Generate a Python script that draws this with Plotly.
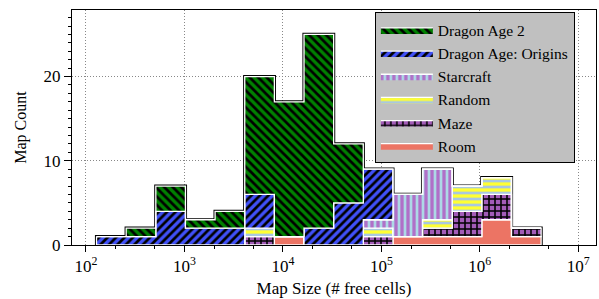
import numpy as np
import plotly.graph_objects as go

# Histogram bin edges (powers of two, 2^7 .. 2^22)
bin_edges = [2 ** k for k in range(7, 23)]

series_names = ["Dragon Age 2", "Dragon Age: Origins", "Starcraft", "Random", "Maze", "Room"]
dragon_age_2 = [0, 1, 3, 1, 2, 14, 16, 23, 7, 0, 0, 0, 0, 0, 0]
dragon_age_origins = [1, 1, 4, 2, 2, 4, 0, 2, 5, 6, 0, 0, 0, 0, 0]
starcraft = [0, 0, 0, 0, 0, 0, 0, 0, 0, 1, 5, 6, 0, 0, 0]
random_maps = [0, 0, 0, 0, 0, 1, 0, 0, 0, 1, 0, 1, 3, 2, 0]
maze = [0, 0, 0, 0, 0, 1, 0, 0, 0, 1, 0, 1, 3, 3, 1]
room = [0, 0, 0, 0, 0, 0, 1, 0, 0, 0, 1, 1, 1, 3, 1]

x_tick_vals = [1e2, 1e3, 1e4, 1e5, 1e6, 1e7]
x_tick_text = ["10<sup>2</sup>", "10<sup>3</sup>", "10<sup>4</sup>",
               "10<sup>5</sup>", "10<sup>6</sup>", "10<sup>7</sup>"]

# stacking order bottom -> top
stack = [
    ("Room", room, dict(color="#ec7464", shape="", fg="#ec7464")),
    ("Maze", maze, dict(color="#a35cb8", shape="+", fg="black")),
    ("Random", random_maps, dict(color="#ffff33", shape="-", fg="#a9c8e0")),
    ("Starcraft", starcraft, dict(color="#b070c8", shape="|", fg="#add8e6")),
    ("Dragon Age: Origins", dragon_age_origins, dict(color="#4050f8", shape="/", fg="black")),
    ("Dragon Age 2", dragon_age_2, dict(color="#008000", shape="\\", fg="black")),
]


def step_xy(edges, vals):
    xs, ys = [], []
    for i, v in enumerate(vals):
        xs += [edges[i], edges[i + 1]]
        ys += [v, v]
    return xs, ys


fig = go.Figure()

# black outline of the total
total = np.zeros(len(bin_edges) - 1)
for _, vals, _ in stack:
    total = total + np.array(vals)
tx, ty = step_xy(bin_edges, list(total))
tx = [bin_edges[0]] + tx + [bin_edges[-1]]
ty = [0] + ty + [0]
fig.add_trace(go.Scatter(x=tx, y=ty, mode="lines", line=dict(color="black", width=3.2),
                         showlegend=False, hoverinfo="skip"))

base = np.zeros(len(bin_edges) - 1)
for name, vals, st in stack:
    top = base + np.array(vals)
    ux, uy = step_xy(bin_edges, list(top))
    lx, ly = step_xy(bin_edges, list(base))
    xs = ux + lx[::-1]
    ys = uy + ly[::-1]
    xs.append(xs[0]); ys.append(ys[0])
    pat = dict(shape=st["shape"], fgcolor=st["fg"], bgcolor=st["color"], size=6, solidity=0.45,
               fillmode="replace")
    fig.add_trace(go.Scatter(x=xs, y=ys, mode="lines", fill="toself", fillcolor=st["color"],
                             fillpattern=pat, line=dict(color="white", width=1.3),
                             name=name, hoverinfo="skip"))
    base = top

font_family = "Liberation Serif"
fig.update_layout(
    width=599, height=299,
    margin=dict(l=72, r=3, t=10, b=54),
    paper_bgcolor="white", plot_bgcolor="white",
    font=dict(family=font_family, size=16, color="black"),
    legend=dict(x=0.578, y=0.99, xanchor="left", yanchor="top",
                bgcolor="#c0c0c0", bordercolor="black", borderwidth=1,
                traceorder="reversed", font=dict(size=15.5, family=font_family, color="black"),
                itemwidth=52, tracegroupgap=0, entrywidth=150),
    showlegend=True,
)
fig.update_xaxes(type="log", range=[1.858, 7.18],
                 tickvals=x_tick_vals, ticktext=x_tick_text,
                 ticks="outside", ticklen=6, tickcolor="black",
                 showline=True, linecolor="black", linewidth=1, mirror=True,
                 showgrid=True, gridcolor="#888888", griddash="1px,2px", gridwidth=1,
                 zeroline=False,
                 minor=dict(ticks="outside", ticklen=3, tickcolor="black", showgrid=False),
                 title=dict(text="Map Size (# free cells)", font=dict(size=17, family=font_family), standoff=6),
                 tickfont=dict(size=17, family=font_family))
fig.update_yaxes(range=[0, 27.9], tickvals=[0, 10, 20],
                 ticks="outside", ticklen=7, tickcolor="black",
                 showline=True, linecolor="black", linewidth=1, mirror=True,
                 showgrid=True, gridcolor="#888888", griddash="1px,2px", gridwidth=1,
                 zeroline=False,
                 minor=dict(ticks="outside", ticklen=3, tickcolor="black", dtick=1, showgrid=False),
                 title=dict(text="Map Count", font=dict(size=16, family=font_family), standoff=12),
                 tickfont=dict(size=17, family=font_family))

fig.write_html("out.html", config={"displayModeBar": False},
               post_script="document.body.style.margin='0';document.body.style.overflow='hidden';")
